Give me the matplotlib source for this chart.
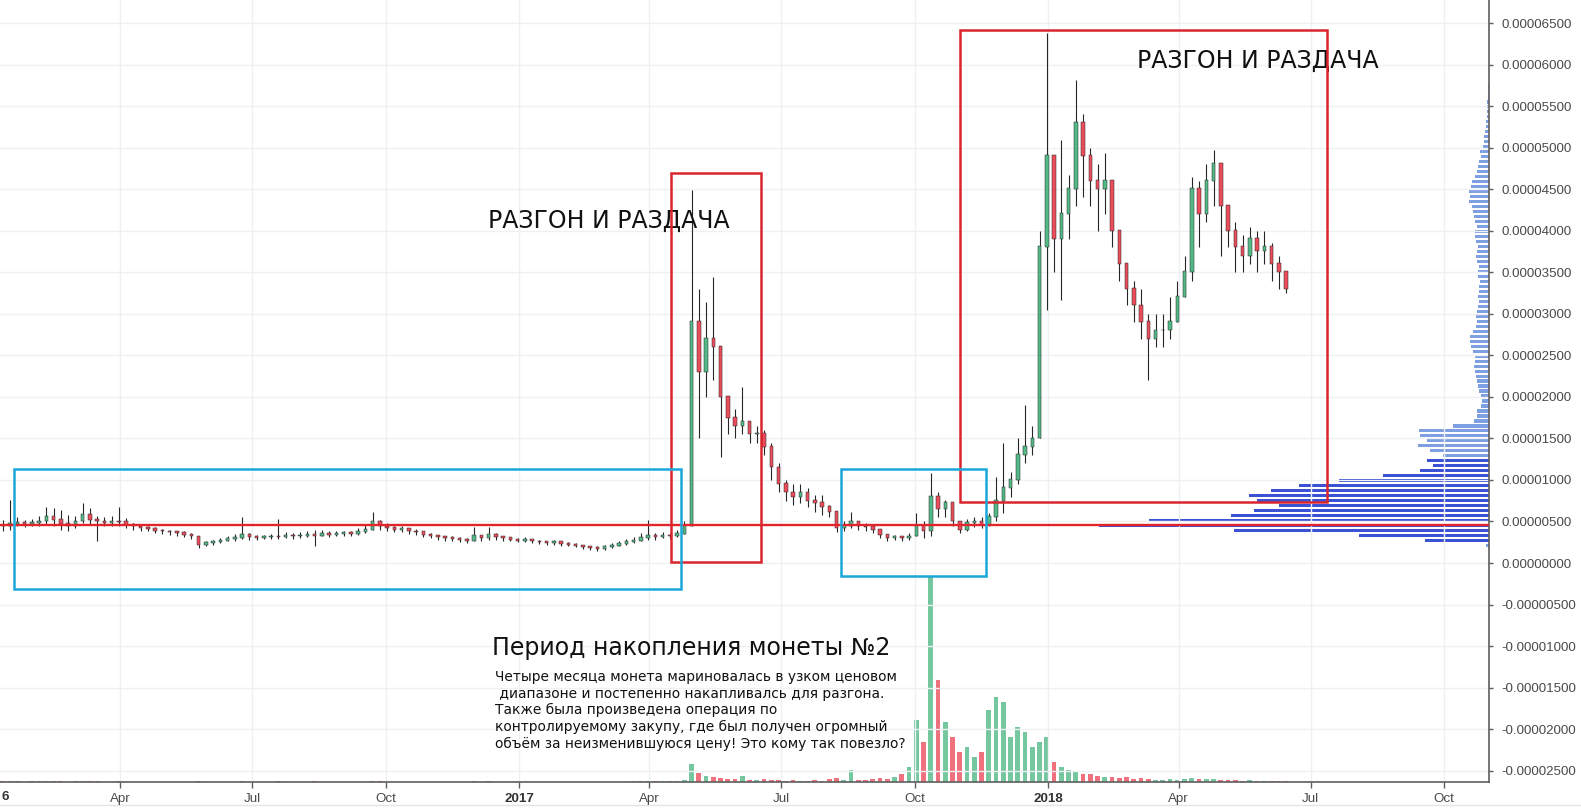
import numpy as np
import pandas as pd
import matplotlib
matplotlib.use('Agg')
import matplotlib.pyplot as plt
import matplotlib.dates as mdates
from matplotlib.patches import Rectangle

plt.rcParams['font.family'] = ['DejaVu Sans']

# 5-day candles, prices in units of 1e-5
candle_start = '2016-01-11'
first_open = 0.45
closes = [
    0.44, 0.47, 0.48, 0.47, 0.48, 0.50, 0.55, 0.52, 0.47, 0.44,
    0.50, 0.58, 0.52, 0.50, 0.48, 0.50, 0.49, 0.46, 0.44, 0.42,
    0.41, 0.39, 0.38, 0.37, 0.36, 0.34, 0.32, 0.22, 0.24, 0.25,
    0.27, 0.29, 0.30, 0.34, 0.31, 0.30, 0.31, 0.32, 0.31, 0.33,
    0.32, 0.33, 0.34, 0.33, 0.35, 0.34, 0.35, 0.36, 0.35, 0.37,
    0.40, 0.50, 0.44, 0.42, 0.40, 0.41, 0.38, 0.37, 0.34, 0.33,
    0.31, 0.30, 0.29, 0.28, 0.27, 0.33, 0.30, 0.34, 0.31, 0.30,
    0.28, 0.27, 0.28, 0.26, 0.25, 0.24, 0.25, 0.23, 0.22, 0.21,
    0.19, 0.18, 0.17, 0.19, 0.21, 0.23, 0.25, 0.27, 0.30, 0.33,
    0.31, 0.33, 0.32, 0.35, 0.45, 2.90, 2.30, 2.70, 2.60, 2.00,
    1.75, 1.65, 1.70, 1.55, 1.55, 1.40, 1.15, 0.95, 0.85, 0.80,
    0.85, 0.75, 0.72, 0.68, 0.62, 0.42, 0.45, 0.50, 0.44, 0.43,
    0.40, 0.34, 0.30, 0.31, 0.30, 0.32, 0.45, 0.38, 0.80, 0.65,
    0.72, 0.50, 0.40, 0.48, 0.50, 0.46, 0.55, 0.75, 0.90, 1.00,
    1.30, 1.40, 1.50, 3.80, 4.90, 3.90, 4.20, 4.50, 5.30, 4.90,
    4.60, 4.50, 4.60, 4.00, 3.60, 3.30, 3.10, 2.90, 2.70, 2.80,
    2.80, 2.90, 3.20, 3.50, 4.50, 4.20, 4.60, 4.80, 4.30, 4.00,
    3.80, 3.70, 3.90, 3.75, 3.80, 3.60, 3.50, 3.30,
]
highs = [
    0.52, 0.76, 0.55, 0.52, 0.53, 0.56, 0.68, 0.66, 0.64, 0.58,
    0.56, 0.72, 0.66, 0.56, 0.55, 0.56, 0.67, 0.54, 0.48, 0.46,
    0.44, 0.43, 0.41, 0.40, 0.39, 0.38, 0.36, 0.33, 0.27, 0.28,
    0.30, 0.32, 0.35, 0.55, 0.36, 0.34, 0.34, 0.35, 0.53, 0.37,
    0.36, 0.37, 0.38, 0.40, 0.40, 0.38, 0.38, 0.39, 0.39, 0.42,
    0.46, 0.62, 0.52, 0.48, 0.45, 0.44, 0.42, 0.41, 0.38, 0.36,
    0.34, 0.33, 0.32, 0.31, 0.30, 0.43, 0.34, 0.43, 0.36, 0.33,
    0.31, 0.30, 0.31, 0.29, 0.28, 0.27, 0.28, 0.26, 0.25, 0.24,
    0.22, 0.21, 0.20, 0.22, 0.24, 0.27, 0.29, 0.31, 0.36, 0.52,
    0.36, 0.37, 0.36, 0.40, 0.50, 4.49, 3.30, 3.14, 3.44, 2.50,
    2.00, 1.85, 2.12, 1.70, 1.65, 1.60, 1.45, 1.20, 1.00, 0.95,
    0.95, 0.90, 0.82, 0.82, 0.70, 0.60, 0.50, 0.61, 0.50, 0.48,
    0.45, 0.40, 0.35, 0.34, 0.33, 0.36, 0.60, 0.50, 1.08, 0.85,
    0.76, 0.70, 0.50, 0.53, 0.55, 0.55, 0.60, 1.04, 1.44, 1.10,
    1.50, 1.90, 1.65, 4.00, 6.38, 4.80, 5.09, 4.67, 5.81, 5.40,
    5.00, 4.80, 4.93, 4.30, 3.90, 3.60, 3.40, 3.30, 3.00, 3.00,
    3.00, 3.20, 3.40, 3.70, 4.65, 4.60, 4.80, 4.97, 4.60, 4.30,
    4.10, 3.95, 4.05, 4.00, 4.00, 3.85, 3.70, 3.50,
]
lows = [
    0.38, 0.40, 0.44, 0.43, 0.44, 0.45, 0.46, 0.45, 0.40, 0.38,
    0.42, 0.48, 0.46, 0.26, 0.44, 0.45, 0.44, 0.42, 0.40, 0.39,
    0.38, 0.36, 0.35, 0.34, 0.33, 0.31, 0.29, 0.18, 0.20, 0.22,
    0.24, 0.26, 0.27, 0.29, 0.28, 0.28, 0.29, 0.29, 0.29, 0.30,
    0.29, 0.30, 0.31, 0.21, 0.32, 0.31, 0.32, 0.33, 0.32, 0.34,
    0.36, 0.40, 0.40, 0.38, 0.37, 0.37, 0.35, 0.34, 0.31, 0.30,
    0.28, 0.27, 0.26, 0.25, 0.24, 0.26, 0.27, 0.28, 0.28, 0.27,
    0.26, 0.25, 0.25, 0.24, 0.23, 0.22, 0.22, 0.21, 0.20, 0.19,
    0.17, 0.16, 0.15, 0.16, 0.18, 0.20, 0.22, 0.24, 0.26, 0.28,
    0.28, 0.30, 0.29, 0.31, 0.36, 0.45, 1.50, 2.00, 2.20, 1.28,
    1.55, 1.50, 1.55, 1.45, 1.45, 1.30, 1.00, 0.85, 0.75, 0.70,
    0.72, 0.68, 0.62, 0.58, 0.55, 0.37, 0.38, 0.42, 0.40, 0.39,
    0.36, 0.30, 0.27, 0.28, 0.27, 0.28, 0.32, 0.30, 0.33, 0.55,
    0.55, 0.45, 0.36, 0.38, 0.43, 0.42, 0.45, 0.50, 0.60, 0.80,
    0.95, 1.20, 1.30, 1.50, 3.05, 3.50, 3.17, 3.90, 4.30, 4.40,
    4.30, 4.00, 4.20, 3.80, 3.40, 3.10, 2.90, 2.70, 2.20, 2.60,
    2.60, 2.70, 2.90, 3.20, 3.40, 3.80, 4.10, 4.30, 3.70, 3.80,
    3.50, 3.50, 3.60, 3.50, 3.60, 3.40, 3.30, 3.25,
]
volumes = [
    0.8, 1.2, 0.6, 0.5, 0.7, 0.6, 1.0, 0.9, 0.6, 0.5,
    0.6, 1.1, 0.7, 0.8, 0.5, 0.5, 0.8, 0.5, 0.4, 0.4,
    0.4, 0.3, 0.3, 0.3, 0.4, 0.3, 0.4, 0.9, 0.5, 0.4,
    0.3, 0.3, 0.4, 0.9, 0.4, 0.3, 0.3, 0.3, 0.8, 0.3,
    0.3, 0.3, 0.3, 0.6, 0.3, 0.3, 0.3, 0.3, 0.3, 0.4,
    0.5, 1.2, 0.6, 0.4, 0.3, 0.3, 0.3, 0.3, 0.3, 0.3,
    0.3, 0.3, 0.3, 0.3, 0.3, 0.8, 0.4, 0.7, 0.4, 0.3,
    0.3, 0.3, 0.3, 0.3, 0.3, 0.3, 0.3, 0.3, 0.3, 0.3,
    0.3, 0.3, 0.3, 0.3, 0.4, 0.4, 0.5, 0.6, 0.8, 1.5,
    0.8, 0.7, 0.8, 1.0, 2.5, 18, 9, 6, 5, 4,
    3, 3, 6, 2, 2, 3, 2, 2, 1.5, 2,
    1.5, 1.5, 2, 1.5, 3, 4, 2, 12, 2, 2,
    3, 4, 3, 5, 8, 15, 62, 40, 205, 102,
    60, 45, 30, 35, 25, 30, 72, 85, 80, 45,
    55, 50, 35, 40, 45, 20, 15, 12, 10, 8,
    8, 6, 5, 5, 4, 5, 3, 4, 3, 2,
    2, 3, 2, 3, 4, 3, 3, 3, 2, 2,
    2, 1.5, 2, 1.5, 1, 1, 1, 1,
]

# volume profile (bottom row at 0.21e-5, one row every 0.06e-5)
profile_bottom = 0.21
profile_step = 0.06
profile_volume = [
    3, 64, 130, 255, 390, 340, 258, 235, 210, 232,
    240, 218, 190, 150, 106, 69, 56, 62, 46, 59,
    71, 62, 69, 70, 36, 15, 12, 12, 8, 7,
    8, 10, 11, 12, 13, 14, 15, 14, 14, 16,
    18, 19, 19, 16, 13, 12, 13, 12, 11, 10,
    11, 10, 10, 9, 11, 11, 10, 12, 13, 12,
    11, 13, 14, 14, 12, 14, 15, 16, 17, 20,
    19, 20, 18, 17, 14, 12, 11, 10, 8, 9,
    6, 5, 5, 4, 3, 3, 2, 2, 2, 2,
    1.5, 1.5, 1,
]
value_area = (0.25, 1.25)

support_level = 0.46

# annotation boxes: start, end, low, high (1e-5)
red_boxes = [('2017-04-16', '2017-06-17', 0.01, 4.69),
             ('2017-11-01', '2018-07-12', 0.74, 6.42)]
blue_boxes = [('2016-01-19', '2017-04-23', -0.31, 1.13),
              ('2017-08-11', '2017-11-19', -0.16, 1.13)]

tick_dates = ['2016-04-01', '2016-07-01', '2016-10-01', '2017-01-01',
              '2017-04-01', '2017-07-01', '2017-10-01', '2018-01-01',
              '2018-04-01', '2018-07-01', '2018-10-01']
tick_labels = ['Apr', 'Jul', 'Oct', '2017', 'Apr', 'Jul', 'Oct', '2018',
               'Apr', 'Jul', 'Oct']

GREEN = '#53b987'
RED = '#eb4d5c'
WICK = '#262626'

S = 1e-5
c = np.array(closes) * S
o = np.array([first_open] + closes[:-1]) * S
h = np.maximum(np.array(highs) * S, np.maximum(o, c))
l = np.minimum(np.array(lows) * S, np.minimum(o, c))
dates = pd.date_range(candle_start, periods=len(closes), freq='5D')
xd = mdates.date2num(dates.to_pydatetime())
up = c >= o
colors = np.where(up, GREEN, RED)

fig = plt.figure(figsize=(15.81, 8.08), dpi=100)
pos = [0, 1 - 782 / 808, 1489 / 1581, 782 / 808]
ax_vol = fig.add_axes(pos, zorder=1)
ax_prof = fig.add_axes(pos, zorder=2)
ax = fig.add_axes(pos, zorder=3)
ax.patch.set_alpha(0)
ax_prof.patch.set_alpha(0)

anchor = mdates.date2num(pd.Timestamp('2017-01-01'))
x0 = anchor - 519 / 1.45
x1 = anchor + (1489 - 519) / 1.45
ylo, yhi = -2.636 * S, 6.777 * S

# volume bars
ax_vol.bar(xd, volumes, width=3.2, color=colors, alpha=0.8, lw=0)
ax_vol.set_xlim(x0, x1)
ax_vol.set_ylim(0, 782)
ax_vol.axis('off')

# volume profile
levels = (profile_bottom + profile_step * np.arange(len(profile_volume))) * S
pcolors = ['#3c52d4' if value_area[0] <= lv / S <= value_area[1] else '#7e9fe2'
           for lv in levels]
ax_prof.barh(levels, profile_volume, height=0.038 * S, color=pcolors, lw=0)
ax_prof.set_xlim(1489, 0)
ax_prof.set_ylim(ylo, yhi)
ax_prof.axis('off')

# grid
for xt in tick_dates:
    ax.axvline(mdates.date2num(pd.Timestamp(xt)), color='#eef0f4', lw=1, zorder=0)
yt = np.arange(-2.5, 6.51, 0.5) * S
for v in yt:
    ax.axhline(v, color='#eef0f4', lw=1, zorder=0)

# candles
ax.vlines(xd, l, h, color=WICK, lw=0.8, zorder=3)
ax.bar(xd, np.abs(c - o) + 0.01 * S, bottom=np.minimum(o, c), width=2.4,
       color=colors, edgecolor=WICK, lw=0.35, zorder=4)

ax.axhline(support_level * S, color='#e3242b', lw=1.7, zorder=5)

for start, end, lo, hi in red_boxes:
    xs = mdates.date2num(pd.Timestamp(start))
    xe = mdates.date2num(pd.Timestamp(end))
    ax.add_patch(Rectangle((xs, lo * S), xe - xs, (hi - lo) * S, fill=False,
                           ec='#d9262e', lw=1.8, zorder=6))
for start, end, lo, hi in blue_boxes:
    xs = mdates.date2num(pd.Timestamp(start))
    xe = mdates.date2num(pd.Timestamp(end))
    ax.add_patch(Rectangle((xs, lo * S), xe - xs, (hi - lo) * S, fill=False,
                           ec='#1ba7da', lw=1.8, zorder=6))

ax.set_xlim(x0, x1)
ax.set_ylim(ylo, yhi)

# axes styling
for side in ['top', 'left']:
    ax.spines[side].set_visible(False)
for side in ['right', 'bottom']:
    ax.spines[side].set_color('#5d5d5d')
    ax.spines[side].set_linewidth(1.2)
ax.yaxis.tick_right()
ax.set_yticks(yt)
ax.set_yticklabels(['%.8f' % (0.0 if abs(v) < 1e-12 else v) for v in yt],
                   fontfamily='Liberation Sans', fontsize=9.6, color='#4a4a4a')
ax.tick_params(axis='y', length=3, width=1, color='#5d5d5d', pad=6)
ax.set_xticks([mdates.date2num(pd.Timestamp(d)) for d in tick_dates])
ax.set_xticklabels(tick_labels, fontfamily='Liberation Sans', fontsize=9.6,
                   color='#4a4a4a')
for lab in ax.get_xticklabels():
    if lab.get_text().isdigit():
        lab.set_fontweight('bold')
        lab.set_color('#333333')
ax.tick_params(axis='x', length=4, width=1, color='#5d5d5d', pad=4)
# only the tail of the 2016 year label shows at the left edge
fig.text(1 / 1581, 1 - 797 / 808, '6', ha='left', va='center',
         fontfamily='Liberation Sans', fontsize=9.6, fontweight='bold',
         color='#333333')

# annotations
ax.text(0.4087, 0.7174, 'РАЗГОН И РАЗДАЧА', transform=ax.transAxes,
        ha='center', va='center', fontsize=17, color='#111111')
ax.text(0.8447, 0.9226, 'РАЗГОН И РАЗДАЧА', transform=ax.transAxes,
        ha='center', va='center', fontsize=17, color='#111111')
ax.text(492 / 1489, 1 - 648 / 782, 'Период накопления монеты №2',
        transform=ax.transAxes, ha='left', va='center', fontsize=17,
        color='#111111')
ax.text(495 / 1489, 1 - 670 / 782,
        'Четыре месяца монета мариновалась в узком ценовом\n'
        ' диапазоне и постепенно накапливалсь для разгона.\n'
        'Также была произведена операция по\n'
        'контролируемому закупу, где был получен огромный\n'
        'объём за неизменившуюся цену! Это кому так повезло?',
        transform=ax.transAxes, ha='left', va='top', fontsize=9.9,
        linespacing=1.24, color='#111111')

fig.add_artist(plt.Line2D([0, 1], [0.004, 0.004], color='#e1e4ea', lw=1))

fig.savefig('out.png', dpi=100, facecolor='white')
